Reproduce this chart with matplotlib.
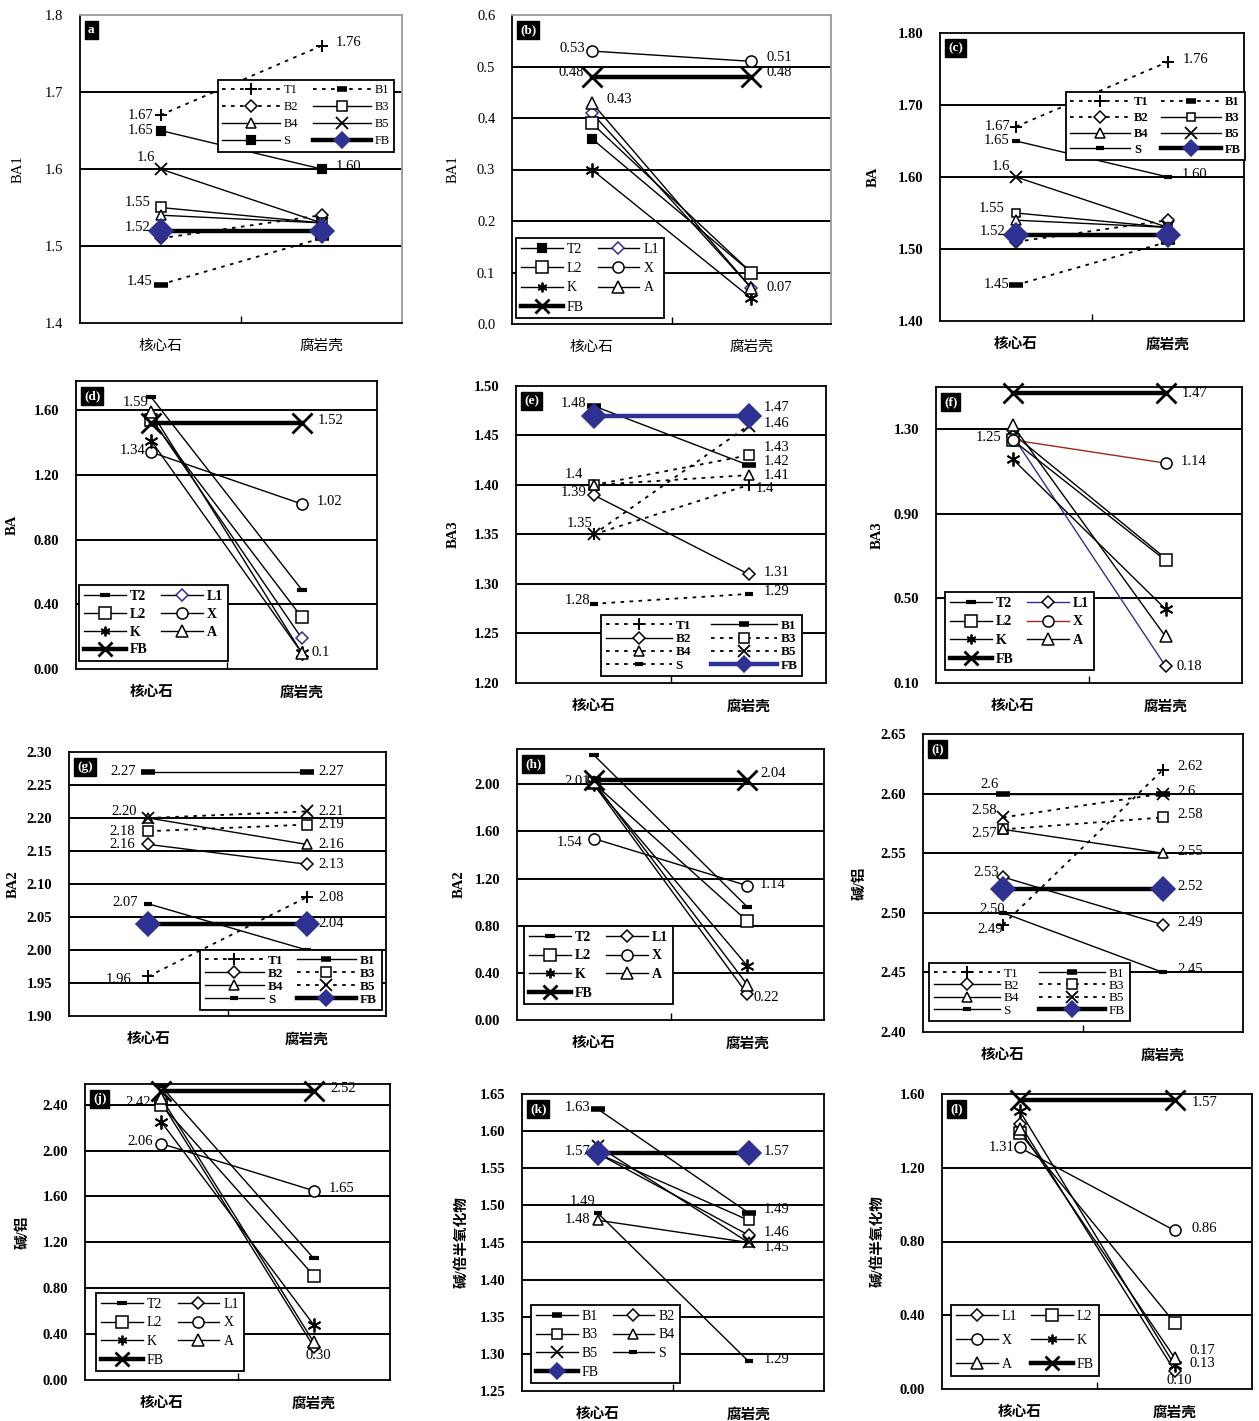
import matplotlib
matplotlib.use('Agg')
import matplotlib.pyplot as plt
from matplotlib.lines import Line2D

plt.rcParams['font.family'] = ['Liberation Serif', 'Noto Sans CJK SC']

W, H = 1259, 1421
BLUE = '#2e3192'
RED = '#a0281e'
FS = 10.5

cats = ['核心石', '腐岩壳']

# values: 核心石 -> 腐岩壳 for each sample series
a_names = ['T1', 'B1', 'B2', 'B3', 'B4', 'B5', 'S', 'FB']
a_core = [1.67, 1.45, 1.51, 1.55, 1.54, 1.60, 1.65, 1.52]
a_shell = [1.76, 1.51, 1.54, 1.53, 1.53, 1.53, 1.60, 1.52]

b_names = ['T2', 'L1', 'L2', 'X', 'K', 'A', 'FB']
b_core = [0.36, 0.41, 0.39, 0.53, 0.30, 0.43, 0.48]
b_shell = [0.10, 0.07, 0.10, 0.51, 0.05, 0.07, 0.48]

c_names = ['T1', 'B1', 'B2', 'B3', 'B4', 'B5', 'S', 'FB']
c_core = [1.67, 1.45, 1.51, 1.55, 1.54, 1.60, 1.65, 1.52]
c_shell = [1.76, 1.51, 1.54, 1.53, 1.53, 1.53, 1.60, 1.52]

d_names = ['T2', 'L1', 'L2', 'X', 'K', 'A', 'FB']
d_core = [1.68, 1.55, 1.54, 1.34, 1.41, 1.59, 1.52]
d_shell = [0.49, 0.19, 0.32, 1.02, 0.10, 0.10, 1.52]

e_names = ['T1', 'B1', 'B2', 'B3', 'B4', 'B5', 'S', 'FB']
e_core = [1.35, 1.48, 1.39, 1.40, 1.40, 1.35, 1.28, 1.47]
e_shell = [1.40, 1.42, 1.31, 1.43, 1.41, 1.46, 1.29, 1.47]

f_names = ['T2', 'L1', 'L2', 'X', 'K', 'A', 'FB']
f_core = [1.28, 1.27, 1.25, 1.25, 1.16, 1.32, 1.47]
f_shell = [0.69, 0.18, 0.68, 1.14, 0.45, 0.32, 1.47]

g_names = ['T1', 'B1', 'B2', 'B3', 'B4', 'B5', 'S', 'FB']
g_core = [1.96, 2.27, 2.16, 2.18, 2.20, 2.20, 2.07, 2.04]
g_shell = [2.08, 2.27, 2.13, 2.19, 2.16, 2.21, 2.00, 2.04]

h_names = ['T2', 'L1', 'L2', 'X', 'K', 'A', 'FB']
h_core = [2.25, 2.00, 2.01, 1.54, 2.00, 2.02, 2.04]
h_shell = [0.96, 0.22, 0.84, 1.14, 0.46, 0.30, 2.04]

i_names = ['T1', 'B1', 'B2', 'B3', 'B4', 'B5', 'S', 'FB']
i_core = [2.49, 2.60, 2.53, 2.57, 2.57, 2.58, 2.50, 2.52]
i_shell = [2.62, 2.60, 2.49, 2.58, 2.55, 2.60, 2.45, 2.52]

j_names = ['T2', 'L1', 'L2', 'X', 'K', 'A', 'FB']
j_core = [2.56, 2.42, 2.40, 2.06, 2.25, 2.46, 2.52]
j_shell = [1.06, 0.29, 0.91, 1.65, 0.48, 0.33, 2.52]

k_names = ['B1', 'B2', 'B3', 'B4', 'B5', 'S', 'FB']
k_core = [1.63, 1.57, 1.57, 1.48, 1.58, 1.49, 1.57]
k_shell = [1.49, 1.46, 1.48, 1.45, 1.45, 1.29, 1.57]

l_names = ['L1', 'L2', 'X', 'K', 'A', 'FB']
l_core = [1.44, 1.39, 1.31, 1.51, 1.41, 1.57]
l_shell = [0.10, 0.36, 0.86, 0.13, 0.17, 1.57]

# value labels: (category index, value, text, dx px, dy px, align)
a_notes = [(0, 1.67, '1.67', -7, 0, 'r'), (0, 1.65, '1.65', -7, 0, 'r'),
           (0, 1.60, '1.6', -5, 11, 'r'), (0, 1.55, '1.55', -10, 5, 'r'),
           (0, 1.52, '1.52', -10, 3, 'r'), (0, 1.45, '1.45', -8, 3, 'r'),
           (1, 1.76, '1.76', 14, 3, 'l'), (1, 1.60, '1.60', 14, 2, 'l')]
b_notes = [(0, 0.53, '0.53', -7, 3, 'r'), (0, 0.48, '0.48', -8, 4, 'r'),
           (0, 0.43, '0.43', 15, 3, 'l'), (1, 0.51, '0.51', 15, 4, 'l'),
           (1, 0.48, '0.48', 15, 4, 'l'), (1, 0.07, '0.07', 15, 0, 'l')]
c_notes = [(0, 1.67, '1.67', -6, 0, 'r'), (0, 1.65, '1.65', -7, 0, 'r'),
           (0, 1.60, '1.6', -6, 10, 'r'), (0, 1.55, '1.55', -11, 4, 'r'),
           (0, 1.52, '1.52', -11, 3, 'r'), (0, 1.45, '1.45', -7, 1, 'r'),
           (1, 1.76, '1.76', 15, 2, 'l'), (1, 1.60, '1.60', 14, 2, 'l')]
d_notes = [(0, 1.59, '1.59', -3, 9, 'r'), (0, 1.34, '1.34', -6, 2, 'r'),
           (1, 1.52, '1.52', 16, 3, 'l'), (1, 1.02, '1.02', 15, 2, 'l'),
           (1, 0.10, '0.1', 10, 0, 'l')]
e_notes = [(0, 1.48, '1.48', -7, 2, 'r'), (0, 1.40, '1.4', -10, 10, 'r'),
           (0, 1.39, '1.39', -7, 2, 'r'), (0, 1.35, '1.35', -1, 11, 'r'),
           (0, 1.28, '1.28', -3, 3, 'r'),
           (1, 1.47, '1.47', 15, 8, 'l'), (1, 1.46, '1.46', 15, 2, 'l'),
           (1, 1.43, '1.43', 15, 8, 'l'), (1, 1.42, '1.42', 15, 4, 'l'),
           (1, 1.41, '1.41', 15, 0, 'l'), (1, 1.40, '1.4', 7, -4, 'l'),
           (1, 1.31, '1.31', 15, 2, 'l'), (1, 1.29, '1.29', 15, 2, 'l')]
f_notes = [(0, 1.25, '1.25', -11, 2, 'r'), (1, 1.47, '1.47', 16, 0, 'l'),
           (1, 1.14, '1.14', 15, 2, 'l'), (1, 0.18, '0.18', 11, 0, 'l')]
g_notes = [(0, 2.27, '2.27', -12, 0, 'r'), (0, 2.20, '2.20', -11, 6, 'r'),
           (0, 2.18, '2.18', -13, 0, 'r'), (0, 2.16, '2.16', -13, 0, 'r'),
           (0, 2.07, '2.07', -10, 1, 'r'), (0, 1.96, '1.96', -17, -3, 'r'),
           (1, 2.27, '2.27', 12, 0, 'l'), (1, 2.21, '2.21', 12, 0, 'l'),
           (1, 2.19, '2.19', 12, 0, 'l'), (1, 2.16, '2.16', 12, 0, 'l'),
           (1, 2.13, '2.13', 12, 0, 'l'), (1, 2.08, '2.08', 12, 0, 'l'),
           (1, 2.04, '2.04', 12, 0, 'l')]
h_notes = [(0, 2.01, '2.01', -4, 2, 'r'), (0, 1.54, '1.54', -11, -4, 'r'),
           (1, 2.04, '2.04', 13, 6, 'l'), (1, 1.14, '1.14', 12, 1, 'l'),
           (1, 0.22, '0.22', 6, -3, 'l')]
i_notes = [(0, 2.60, '2.6', -4, 9, 'r'), (0, 2.58, '2.58', -6, 7, 'r'),
           (0, 2.57, '2.57', -6, -4, 'r'), (0, 2.53, '2.53', -4, 5, 'r'),
           (0, 2.50, '2.50', 2, 3, 'r'), (0, 2.49, '2.49', 0, -5, 'r'),
           (1, 2.62, '2.62', 14, 3, 'l'), (1, 2.60, '2.6', 14, 2, 'l'),
           (1, 2.58, '2.58', 14, 3, 'l'), (1, 2.55, '2.55', 14, 2, 'l'),
           (1, 2.52, '2.52', 14, 2, 'l'), (1, 2.49, '2.49', 14, 2, 'l'),
           (1, 2.45, '2.45', 14, 3, 'l')]
j_notes = [(0, 2.42, '2.42', -10, 0, 'r'), (0, 2.06, '2.06', -8, 2, 'r'),
           (1, 2.52, '2.52', 17, 2, 'l'), (1, 1.65, '1.65', 15, 2, 'l'),
           (1, 0.30, '0.30', 5, -10, 'c')]
k_notes = [(0, 1.63, '1.63', -7, 1, 'r'), (0, 1.57, '1.57', -7, 2, 'r'),
           (0, 1.49, '1.49', -2, 11, 'r'), (0, 1.48, '1.48', -7, 1, 'r'),
           (1, 1.57, '1.57', 15, 2, 'l'), (1, 1.49, '1.49', 15, 3, 'l'),
           (1, 1.46, '1.46', 15, 3, 'l'), (1, 1.45, '1.45', 15, -5, 'l'),
           (1, 1.29, '1.29', 15, 2, 'l')]
l_notes = [(0, 1.31, '1.31', -5, 0, 'r'), (1, 1.57, '1.57', 17, -3, 'l'),
           (1, 0.86, '0.86', 17, 2, 'l'), (1, 0.17, '0.17', 15, 7, 'l'),
           (1, 0.13, '0.13', 15, 2, 'l'), (1, 0.10, '0.10', 5, -10, 'c')]

BASE = {
    'T1': dict(marker='+', ms=9, mew=1.4),
    'B1': dict(marker='_', ms=10, mew=4),
    'B2': dict(marker='D', ms=6, mfc='white'),
    'B3': dict(marker='s', ms=7, mfc='white'),
    'B4': dict(marker='^', ms=7, mfc='white'),
    'B5': dict(marker='x', ms=8, mew=1.3),
    'S': dict(marker='_', ms=6, mew=3),
    'FB': dict(marker='D', ms=12, mfc=BLUE, mec=BLUE, lw=3.2),
    'T2': dict(marker='_', ms=7, mew=3),
    'L1': dict(marker='D', ms=6, mfc='white'),
    'L2': dict(marker='s', ms=8, mfc='white'),
    'X': dict(marker='o', ms=8, mfc='white'),
    'K': dict(marker=(6, 2, 0), ms=10, mew=1.3),
    'A': dict(marker='^', ms=8, mfc='white'),
}
FB_CROSS = dict(marker='x', ms=15, mew=2, lw=3.2)
HA = {'r': 'right', 'l': 'left', 'c': 'center'}

fig = plt.figure(figsize=(W / 100, H / 100), dpi=100)


def panel(rect, names, core, shell, dashed, ylim, yticks, fmt, ylabel, ylab_x,
          tag, notes, leg, bold=True, leg_bold=True, cross_fb=False, over=None,
          gray_frame=False):
    over = over or {}
    l, t, r, b = rect
    ax = fig.add_axes([l / W, 1 - b / H, (r - l) / W, (b - t) / H])
    ax.set_xlim(-0.5, 1.5)
    ax.set_ylim(*ylim)
    wt = 'bold' if bold else 'normal'
    for v in yticks:
        if ylim[0] + 1e-9 < v < ylim[1] - 1e-9:
            ax.axhline(v, color='black', lw=1.4, zorder=1)

    styles = {}
    for i, nm in enumerate(names):
        st = dict(color='black', lw=1.0, mec='black', mew=1.1)
        st.update(FB_CROSS if (nm == 'FB' and cross_fb) else BASE[nm])
        st.update(over.get(nm, {}))
        if nm in dashed:
            st['ls'] = (0, (2, 3))
            st['lw'] = 1.3
        else:
            st['ls'] = '-'
        styles[nm] = st
        ax.plot([0, 1], [core[i], shell[i]], clip_on=False,
                zorder=5 if nm == 'FB' else 3, **st)

    for x, v, s, dx, dy, ha in notes:
        ax.annotate(s, (x, v), xytext=(dx, dy), textcoords='offset pixels',
                    ha=HA[ha], va='center', fontsize=FS, annotation_clip=False,
                    zorder=6)

    ax.set_yticks(yticks)
    ax.set_yticklabels([fmt % v for v in yticks], fontsize=FS, fontweight=wt)
    ax.set_xticks([0, 1])
    ax.set_xticklabels(cats, fontsize=FS, fontweight=wt)
    ax.set_xticks([0.5], minor=True)
    ax.tick_params(axis='both', which='major', length=0, pad=12)
    ax.tick_params(axis='x', which='minor', direction='in', length=5, width=1)
    for sp in ax.spines.values():
        sp.set_linewidth(1.3)
        sp.set_color('black')
    if gray_frame:
        ax.spines['top'].set_color('#9a9a9a')
        ax.spines['right'].set_color('#9a9a9a')

    fig.text(ylab_x / W, 1 - (t + b) / 2 / H, ylabel, rotation=90,
             ha='center', va='center', fontsize=FS, fontweight=wt)

    ax.annotate(tag, (0, 1), xycoords='axes fraction', xytext=(8, -9),
                textcoords='offset pixels', ha='left', va='top', color='white',
                fontsize=9.5, fontweight='bold', zorder=7,
                bbox=dict(boxstyle='square,pad=0.22', fc='black', ec='black'))

    lx, ly, lfs, hl, lsp, csp = leg
    order = names[0::2] + names[1::2]
    handles = []
    for nm in order:
        st = dict(styles[nm])
        if st['ms'] > 9:
            st['ms'] = st['ms'] * 0.7
        handles.append(Line2D([], [], **st))
    lg = ax.legend(handles, order, loc='upper left', ncol=2,
                   bbox_to_anchor=(lx / W, 1 - ly / H),
                   bbox_transform=fig.transFigure, borderaxespad=0,
                   fancybox=False, framealpha=1, edgecolor='black',
                   prop=dict(size=lfs, weight='bold' if leg_bold else 'normal'),
                   handlelength=hl, handletextpad=0.3, labelspacing=lsp,
                   columnspacing=csp, borderpad=0.35, numpoints=1)
    lg.get_frame().set_linewidth(1.3)
    lg.set_zorder(8)
    return ax


panel((80, 15, 402, 323), a_names, a_core, a_shell, ['T1', 'B1', 'B2'],
      (1.4, 1.8), [1.4, 1.5, 1.6, 1.7, 1.8], '%.1f', 'BA1', 18, 'a', a_notes,
      (218, 80, 9, 4.6, 0.4, 1.2), bold=False, leg_bold=False,
      over={'S': dict(marker='s', ms=5, mfc='black')}, gray_frame=True)

panel((512, 15, 831, 324), b_names, b_core, b_shell, [],
      (0.0, 0.6), [0.0, 0.1, 0.2, 0.3, 0.4, 0.5, 0.6], '%.1f', 'BA1', 453, '(b)',
      b_notes, (516, 238, 10, 3.0, 0.45, 1.0), bold=False, leg_bold=False,
      cross_fb=True, over={'L1': dict(mec=BLUE),
                           'T2': dict(marker='s', ms=5, mfc='black')},
      gray_frame=True)

panel((940, 33, 1244, 321), c_names, c_core, c_shell, ['T1', 'B1', 'B2'],
      (1.4, 1.8), [1.4, 1.5, 1.6, 1.7, 1.8], '%.2f', 'BA', 873, '(c)', c_notes,
      (1066, 92, 9, 4.8, 0.3, 1.0), over={'B3': dict(ms=6)})

panel((76, 381, 377, 669), d_names, d_core, d_shell, [],
      (0.0, 1.78), [0.0, 0.4, 0.8, 1.2, 1.6], '%.2f', 'BA', 12, '(d)', d_notes,
      (79, 585, 10, 3.0, 0.35, 1.0), cross_fb=True,
      over={'L1': dict(mec=BLUE)})

panel((516, 386, 826, 683), e_names, e_core, e_shell,
      ['T1', 'B3', 'B4', 'B5', 'S'],
      (1.2, 1.5), [1.20, 1.25, 1.30, 1.35, 1.40, 1.45, 1.50], '%.2f', 'BA3', 453,
      '(e)', e_notes, (601, 615, 9.5, 5.0, 0.08, 1.5),
      over={'FB': dict(color=BLUE)})

panel((936, 387, 1242, 683), f_names, f_core, f_shell, [],
      (0.1, 1.5), [0.1, 0.5, 0.9, 1.3], '%.2f', 'BA3', 877, '(f)', f_notes,
      (945, 592, 10, 3.0, 0.4, 1.0), cross_fb=True,
      over={'L1': dict(color=BLUE), 'X': dict(color=RED)})

panel((69, 752, 386, 1016), g_names, g_core, g_shell, ['T1', 'B3', 'B5'],
      (1.9, 2.3), [1.90, 1.95, 2.00, 2.05, 2.10, 2.15, 2.20, 2.25, 2.30], '%.2f',
      'BA2', 13, '(g)', g_notes, (200, 950, 9.5, 4.5, 0.05, 1.0))

panel((517, 749, 824, 1020), h_names, h_core, h_shell, [],
      (0.0, 2.3), [0.0, 0.4, 0.8, 1.2, 1.6, 2.0], '%.2f', 'BA2', 459, '(h)',
      h_notes, (524, 926, 10, 3.0, 0.4, 1.0), cross_fb=True)

panel((923, 734, 1243, 1032), i_names, i_core, i_shell, ['T1', 'B3', 'B5'],
      (2.4, 2.65), [2.40, 2.45, 2.50, 2.55, 2.60, 2.65], '%.2f', '碱/铝', 860,
      '(i)', i_notes, (929, 963, 9.5, 5.0, 0.0, 1.5), leg_bold=False)

panel((85, 1084, 390, 1380), j_names, j_core, j_shell, [],
      (0.0, 2.58), [0.0, 0.4, 0.8, 1.2, 1.6, 2.0, 2.4], '%.2f', '碱/铝', 23,
      '(j)', j_notes, (96, 1293, 10, 3.0, 0.4, 1.0), leg_bold=False,
      cross_fb=True)

panel((522, 1094, 824, 1391), k_names, k_core, k_shell, [],
      (1.25, 1.65), [1.25, 1.30, 1.35, 1.40, 1.45, 1.50, 1.55, 1.60, 1.65],
      '%.2f', '碱/倍半氧化物', 462, '(k)', k_notes,
      (531, 1305, 10, 3.0, 0.4, 1.0), leg_bold=False)

panel((942, 1094, 1252, 1389), l_names, l_core, l_shell, [],
      (0.0, 1.6), [0.0, 0.4, 0.8, 1.2, 1.6], '%.2f', '碱/倍半氧化物', 878, '(l)',
      l_notes, (951, 1305, 10, 3.0, 0.8, 1.0), leg_bold=False, cross_fb=True)

fig.savefig('out.png', dpi=100)
